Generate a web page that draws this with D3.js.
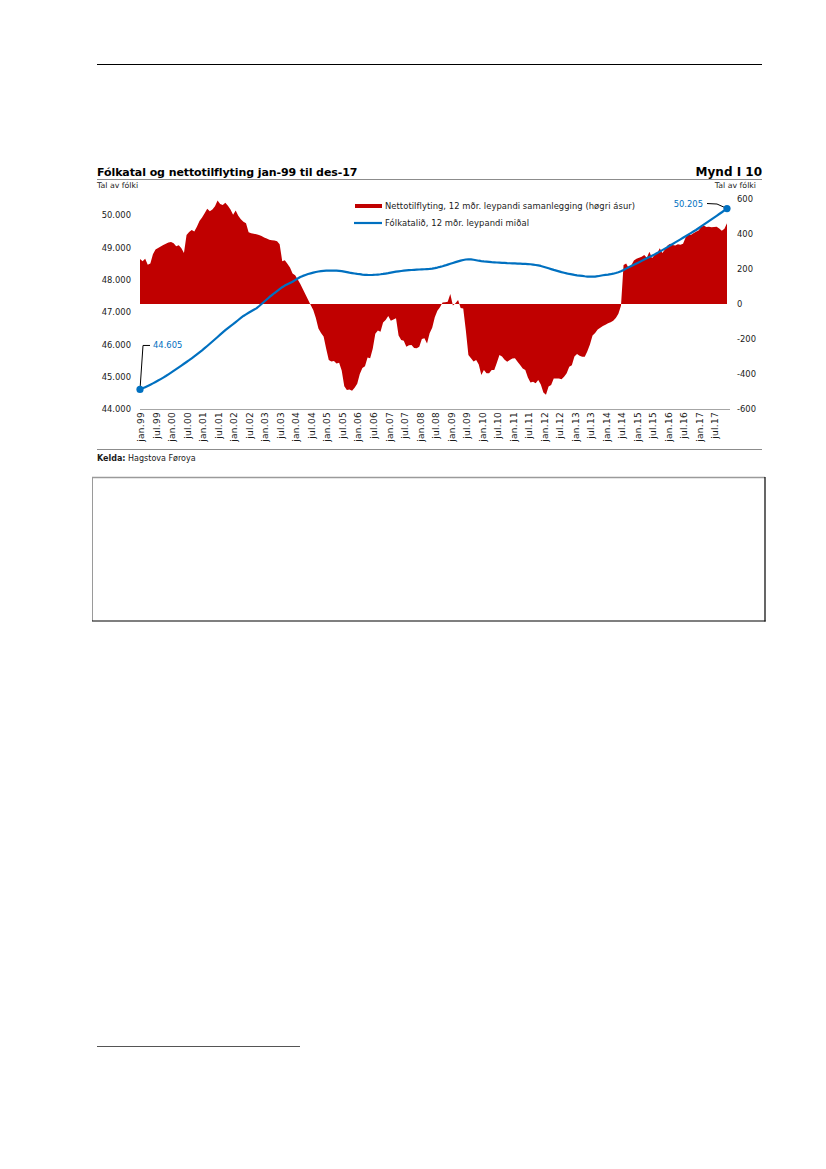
<!DOCTYPE html>
<html><head><meta charset="utf-8">
<script src="https://cdn.jsdelivr.net/npm/d3@7"></script>
<style>
body{margin:0;background:#fff}
svg{display:block}
text{font-family:"DejaVu Sans",Verdana,sans-serif}
</style>
</head><body>
<svg id="c" width="826" height="1169"></svg>
<script>
// ---------- DATA ----------
const years = ["99","00","01","02","03","04","05","06","07","08","09","10","11","12","13","14","15","16","17"];
const months = ["jan","feb","mar","apr","mai","jun","jul","aug","sep","okt","nov","des"];

// Nettotilflyting, 12 mðr. leypandi samanlegging (right axis)
const netMigration = [
  257, 244, 258, 224, 231, 285, 312, 320, 328, 337, 345, 352,
  355, 347, 330, 336, 318, 292, 395, 412, 423, 414, 442, 475,
  495, 518, 545, 530, 540, 558, 592, 572, 566, 578, 562, 540,
  510, 535, 505, 485, 470, 462, 410, 405, 402, 398, 394, 388,
  380, 375, 367, 365, 363, 358, 342, 245, 250, 230, 208, 175,
  165, 140, 115, 85, 55, 25, -5, -34, -80, -140, -165, -185,
  -255, -320, -328, -325, -340, -335, -380, -470, -492, -488, -495, -478,
  -455, -400, -365, -355, -305, -310, -255, -170, -152, -158, -105, -92,
  -68, -95, -88, -82, -180, -206, -210, -244, -236, -234, -252, -253,
  -244, -200, -196, -225, -167, -135, -75, -38, -18, 8, 10, 13,
  57, -8, 4, 23, -23, -25, -150, -291, -310, -328, -320, -345,
  -406, -377, -396, -396, -377, -377, -335, -292, -300, -318, -330, -320,
  -312, -310, -330, -349, -368, -377, -420, -448, -444, -453, -434, -460,
  -505, -518, -472, -463, -425, -425, -426, -430, -415, -395, -358, -350,
  -300, -285, -295, -301, -301, -270, -232, -180, -165, -145, -136, -125,
  -118, -110, -104, -95, -80, -55, -10, 223, 232, 205, 222, 248,
  258, 265, 270, 280, 265, 298, 262, 280, 290, 318, 292, 312,
  335, 345, 337, 335, 342, 338, 345, 380, 402, 395, 404, 413,
  420, 440, 448, 440, 442, 438, 440, 442, 432, 418, 430, 461
];

// Fólkatalið, 12 mðr. leypandi miðal (left axis)
const population = [
  44605, 44640, 44676, 44713, 44752, 44793, 44836, 44880, 44925, 44972, 45020, 45072,
  45125, 45180, 45235, 45290, 45345, 45400, 45455, 45510, 45568, 45628, 45690, 45752,
  45815, 45882, 45950, 46020, 46090, 46160, 46230, 46300, 46370, 46440, 46505, 46568,
  46625, 46690, 46755, 46820, 46880, 46930, 46978, 47025, 47070, 47115, 47180, 47250,
  47320, 47390, 47460, 47525, 47590, 47650, 47710, 47770, 47820, 47860, 47900, 47940,
  47990, 48040, 48085, 48120, 48150, 48180, 48200, 48220, 48240, 48255, 48268, 48278,
  48282, 48285, 48286, 48285, 48282, 48275, 48265, 48252, 48238, 48222, 48208, 48195,
  48182, 48172, 48162, 48154, 48149, 48147, 48150, 48155, 48162, 48170, 48180, 48192,
  48205, 48220, 48235, 48250, 48262, 48272, 48282, 48290, 48297, 48303, 48308, 48313,
  48318, 48322, 48326, 48330, 48335, 48345, 48360, 48378, 48398, 48420, 48444, 48470,
  48495, 48520, 48545, 48570, 48592, 48612, 48628, 48633, 48630, 48620, 48605, 48590,
  48578, 48568, 48560, 48552, 48545, 48540, 48535, 48530, 48525, 48520, 48515, 48512,
  48508, 48505, 48502, 48498, 48494, 48490, 48486, 48480, 48470, 48458, 48444, 48428,
  48405, 48380, 48355, 48330, 48305, 48282, 48260, 48238, 48218, 48198, 48180, 48165,
  48150, 48138, 48128, 48118, 48108, 48100, 48095, 48095, 48100, 48110, 48125, 48140,
  48150, 48160, 48172, 48188, 48208, 48232, 48262, 48302, 48345, 48385, 48425, 48465,
  48505, 48545, 48585, 48625, 48665, 48705, 48745, 48785, 48828, 48872, 48918, 48965,
  49012, 49060, 49108, 49156, 49204, 49252, 49300, 49348, 49396, 49444, 49492, 49540,
  49595, 49650, 49705, 49760, 49815, 49870, 49925, 49980, 50035, 50090, 50148, 50205
];

const leftTicks = [44000, 45000, 46000, 47000, 48000, 49000, 50000];
const rightTicks = [-600, -400, -200, 0, 200, 400, 600];
const leftDomain = [44000, 50500];
const rightDomain = [-600, 600];

const titleText = "Fólkatal og nettotilflyting jan-99 til des-17";
const figText = "Mynd I 10";
const unitText = "Tal av fólki";
const legendNet = "Nettotilflyting, 12 mðr. leypandi samanlegging (høgri ásur)";
const legendPop = "Fólkatalið, 12 mðr. leypandi miðal";

// ---------- BUILD ----------
const categories = [];
years.forEach(y => months.forEach(m => categories.push(m + "." + y)));
const tickCats = categories.filter(c => c.startsWith("jan.") || c.startsWith("jul."));

const RED = "#C00000", BLUE = "#0070C0", TXT = "#1a1a1a";
const fs = 8.4;
const FONT = "DejaVu Sans, Verdana, sans-serif";

const locale = d3.formatLocale({decimal: ",", thousands: ".", grouping: [3], currency: ["", ""], minus: "-"});
const fmt = locale.format(",");

// stretch a text to a target width with letter spacing (keeps glyph size)
function fitWidth(sel, target) {
  const node = sel.node();
  const w = node.getComputedTextLength();
  const n = node.textContent.length;
  if (n > 1 && Math.abs(target - w) > 1) sel.attr("letter-spacing", ((target - w) / (n - 1)).toFixed(3));
  return sel;
}

const svg = d3.select("#c");

const x = d3.scalePoint().domain(categories).range([140, 727]);
const yL = d3.scaleLinear().domain(leftDomain).range([409, 199]);
const yR = d3.scaleLinear().domain(rightDomain).range([409, 199]);

// page rules
svg.append("line").attr("x1", 97).attr("x2", 762).attr("y1", 64.5).attr("y2", 64.5)
  .attr("stroke", "#000").attr("stroke-width", 1);

// title
fitWidth(svg.append("text").attr("x", 97).attr("y", 176).attr("font-size", 11).attr("font-weight", "bold")
  .attr("fill", "#000").text(titleText), 260);
svg.append("text").attr("x", 762).attr("y", 176).attr("font-size", 12).attr("font-weight", "bold")
  .attr("text-anchor", "end").attr("fill", "#000").text(figText);
svg.append("line").attr("x1", 97).attr("x2", 762).attr("y1", 179.5).attr("y2", 179.5)
  .attr("stroke", "#8c8c8c").attr("stroke-width", 1);
svg.append("text").attr("x", 97).attr("y", 188).attr("font-size", 7.8).attr("fill", TXT).text(unitText);
svg.append("text").attr("x", 756).attr("y", 188).attr("font-size", 7.8).attr("text-anchor", "end")
  .attr("fill", TXT).text(unitText);

// area (net migration)
const area = d3.area()
  .x((d, i) => x(categories[i]))
  .y0(yR(0))
  .y1(d => yR(d));
svg.append("path").datum(netMigration).attr("d", area).attr("fill", RED);

// population line
const line = d3.line()
  .x((d, i) => x(categories[i]))
  .y(d => yL(d));
svg.append("path").datum(population).attr("d", line).attr("fill", "none")
  .attr("stroke", BLUE).attr("stroke-width", 2.2).attr("stroke-linejoin", "round");

// left axis
const gL = svg.append("g").attr("transform", "translate(140,0)")
  .call(d3.axisLeft(yL).tickValues(leftTicks).tickSize(0).tickPadding(9).tickFormat(d => fmt(d)));
gL.select(".domain").remove();
gL.selectAll("text").attr("font-size", fs).attr("fill", TXT).attr("font-family", FONT);

// right axis
const gR = svg.append("g").attr("transform", "translate(727,0)")
  .call(d3.axisRight(yR).tickValues(rightTicks).tickSize(0).tickPadding(10).tickFormat(d => fmt(d)));
gR.select(".domain").remove();
gR.selectAll("text").attr("font-size", fs).attr("fill", TXT).attr("font-family", FONT);

// bottom axis
svg.append("line").attr("x1", x(categories[0])).attr("x2", x(categories[categories.length - 1]) + 3)
  .attr("y1", 409.5).attr("y2", 409.5).attr("stroke", "#a6a6a6").attr("stroke-width", 1);
const gB = svg.append("g").attr("transform", "translate(0,409)")
  .call(d3.axisBottom(x).tickValues(tickCats).tickSize(0).tickPadding(0));
gB.select(".domain").remove();
gB.selectAll("text")
  .attr("font-size", 9).attr("fill", TXT).attr("font-family", FONT)
  .attr("transform", "rotate(-90)")
  .attr("text-anchor", "end")
  .attr("x", -3).attr("y", 0).attr("dy", "0.42em")
  .attr("letter-spacing", 0.3);

// legend
const lg = svg.append("g");
lg.append("rect").attr("x", 355).attr("y", 204).attr("width", 27).attr("height", 4).attr("fill", RED);
fitWidth(lg.append("text").attr("x", 385).attr("y", 208.8).attr("font-size", fs).attr("fill", TXT).text(legendNet), 250);
lg.append("line").attr("x1", 354).attr("x2", 382).attr("y1", 223).attr("y2", 223)
  .attr("stroke", BLUE).attr("stroke-width", 2.2);
fitWidth(lg.append("text").attr("x", 385).attr("y", 226.2).attr("font-size", fs).attr("fill", TXT).text(legendPop), 144);

// end point annotations
const i0 = 0, i1 = population.length - 1;
const p0 = [x(categories[i0]), yL(population[i0])];
const p1 = [x(categories[i1]), yL(population[i1])];

svg.append("path").attr("d", `M${p0[0]},${p0[1]} L${p0[0] + 3},${p0[1] - 44} L${p0[0] + 10},${p0[1] - 44}`)
  .attr("fill", "none").attr("stroke", "#000").attr("stroke-width", 1);
svg.append("text").attr("x", p0[0] + 13).attr("y", p0[1] - 41).attr("font-size", fs).attr("fill", BLUE)
  .text(fmt(population[i0]));
svg.append("circle").attr("cx", p0[0]).attr("cy", p0[1]).attr("r", 3.6).attr("fill", BLUE);

svg.append("path").attr("d", `M${p1[0]},${p1[1]} L${p1[0] - 10},${p1[1] - 4.5} L${p1[0] - 20},${p1[1] - 5}`)
  .attr("fill", "none").attr("stroke", "#000").attr("stroke-width", 1);
svg.append("text").attr("x", p1[0] - 24).attr("y", p1[1] - 2).attr("font-size", fs).attr("fill", BLUE)
  .attr("text-anchor", "end").text(fmt(population[i1]));
svg.append("circle").attr("cx", p1[0]).attr("cy", p1[1]).attr("r", 3.6).attr("fill", BLUE);

// source
svg.append("line").attr("x1", 97).attr("x2", 762).attr("y1", 449.5).attr("y2", 449.5)
  .attr("stroke", "#8c8c8c").attr("stroke-width", 1);
const src = svg.append("text").attr("x", 97).attr("y", 461).attr("font-size", 8).attr("fill", TXT);
src.append("tspan").attr("font-weight", "bold").text("Kelda:");
src.append("tspan").text(" Hagstova Føroya");

// empty box
svg.append("line").attr("x1", 92).attr("x2", 765).attr("y1", 477.5).attr("y2", 477.5).attr("stroke", "#9a9a9a").attr("stroke-width", 1.5);
svg.append("line").attr("x1", 92.5).attr("x2", 92.5).attr("y1", 477).attr("y2", 621).attr("stroke", "#9a9a9a").attr("stroke-width", 1);
svg.append("line").attr("x1", 765).attr("x2", 765).attr("y1", 477).attr("y2", 621.5).attr("stroke", "#000").attr("stroke-width", 1.2);
svg.append("line").attr("x1", 92).attr("x2", 765.6).attr("y1", 621).attr("y2", 621).attr("stroke", "#000").attr("stroke-width", 1.2);

// footnote rule
svg.append("line").attr("x1", 97).attr("x2", 300).attr("y1", 1046.5).attr("y2", 1046.5)
  .attr("stroke", "#555").attr("stroke-width", 1);
</script>
</body></html>
